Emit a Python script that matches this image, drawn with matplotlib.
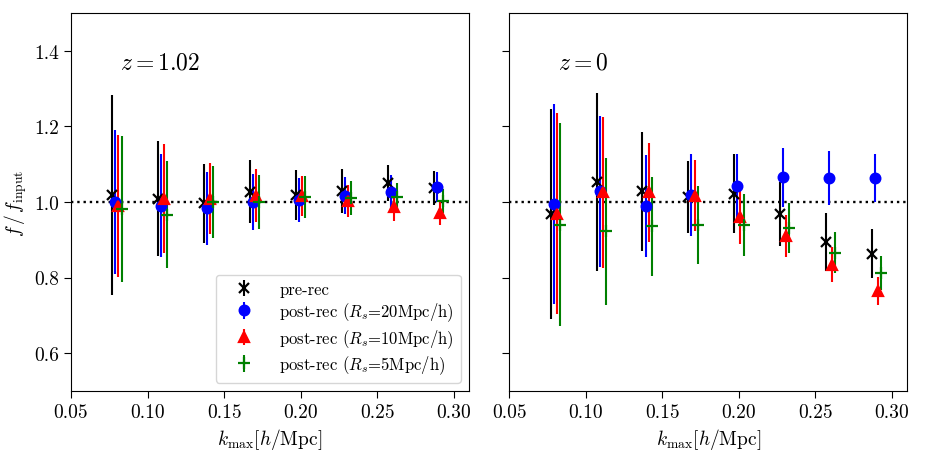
import numpy as np
import matplotlib
matplotlib.use('Agg')
import matplotlib.pyplot as plt

plt.rcParams['font.family'] = 'serif'
plt.rcParams['font.serif'] = ['cmr10', 'DejaVu Serif']
plt.rcParams['mathtext.fontset'] = 'cm'
plt.rcParams['axes.formatter.use_mathtext'] = True

kmax = np.array([0.08, 0.11, 0.14, 0.17, 0.20, 0.23, 0.26, 0.29])

# z = 1.02
pre_z1 = [1.018, 1.009, 0.996, 1.027, 1.019, 1.030, 1.050, 1.036]
pre_z1_err = [0.265, 0.152, 0.104, 0.083, 0.066, 0.058, 0.047, 0.045]
r20_z1 = [1.000, 0.990, 0.983, 1.000, 1.005, 1.017, 1.027, 1.040]
r20_z1_err = [0.190, 0.136, 0.096, 0.073, 0.059, 0.050, 0.045, 0.040]
r10_z1 = [0.989, 1.009, 1.008, 1.016, 1.016, 1.002, 0.987, 0.972]
r10_z1_err = [0.188, 0.143, 0.094, 0.070, 0.052, 0.042, 0.037, 0.032]
r5_z1 = [0.982, 0.966, 1.000, 1.000, 1.013, 1.010, 1.012, 1.003]
r5_z1_err = [0.193, 0.142, 0.096, 0.072, 0.055, 0.045, 0.038, 0.031]

# z = 0
pre_z0 = [0.968, 1.052, 1.028, 1.012, 1.022, 0.969, 0.894, 0.863]
pre_z0_err = [0.278, 0.236, 0.157, 0.095, 0.105, 0.085, 0.077, 0.065]
r20_z0 = [0.994, 1.028, 0.989, 1.019, 1.041, 1.065, 1.063, 1.064]
r20_z0_err = [0.264, 0.200, 0.136, 0.108, 0.086, 0.078, 0.071, 0.063]
r10_z0 = [0.969, 1.026, 1.025, 1.017, 0.959, 0.910, 0.834, 0.764]
r10_z0_err = [0.266, 0.200, 0.131, 0.095, 0.070, 0.055, 0.047, 0.038]
r5_z0 = [0.940, 0.922, 0.936, 0.939, 0.940, 0.931, 0.866, 0.813]
r5_z0_err = [0.268, 0.194, 0.131, 0.103, 0.082, 0.067, 0.054, 0.045]

labels = ['pre-rec',
          r'post-rec ($R_s$=20Mpc/h)',
          r'post-rec ($R_s$=10Mpc/h)',
          r'post-rec ($R_s$=5Mpc/h)']
offsets = [-0.003, -0.001, 0.001, 0.003]
styles = [('k', 'x', 6.5), ('b', 'o', 7), ('r', '^', 7), ('g', '+', 8)]

panels = [
    ([pre_z1, r20_z1, r10_z1, r5_z1], [pre_z1_err, r20_z1_err, r10_z1_err, r5_z1_err], r'$z=1.02$'),
    ([pre_z0, r20_z0, r10_z0, r5_z0], [pre_z0_err, r20_z0_err, r10_z0_err, r5_z0_err], r'$z=0$'),
]

fig = plt.figure(figsize=(9.27, 4.6), dpi=100)
ax1 = fig.add_axes([0.0766, 0.148, 0.4294, 0.8217])
ax2 = fig.add_axes([0.5494, 0.148, 0.4294, 0.8217])

for i, (ax, (vals, errs, ztxt)) in enumerate(zip([ax1, ax2], panels)):
    ax.axhline(1.0, color='k', ls=':', lw=1.7, zorder=1)
    for j in range(4):
        c, m, ms = styles[j]
        ax.errorbar(kmax + offsets[j], vals[j], yerr=errs[j], fmt=m, color=c,
                    ms=ms, mew=1.6, elinewidth=1.5, capsize=0, label=labels[j])
    ax.set_xlim(0.05, 0.31)
    ax.set_ylim(0.5, 1.5)
    ax.set_yticks([0.6, 0.8, 1.0, 1.2, 1.4])
    ax.set_xticks([0.05, 0.10, 0.15, 0.20, 0.25, 0.30])
    ax.set_xticklabels(['0.05', '0.10', '0.15', '0.20', '0.25', '0.30'])
    ax.tick_params(labelsize=14, length=5)
    ax.set_xlabel(r'$k_{\rm max}[h/{\rm Mpc}]$', fontsize=14)
    ax.text(0.082, 1.37, ztxt, fontsize=17, va='center', ha='left')

ax1.set_yticklabels(['0.6', '0.8', '1.0', '1.2', '1.4'])
ax1.set_ylabel(r'$f\,/\,f_{\rm input}$', fontsize=14)
ax2.set_yticklabels([])
ax1.legend(loc='lower right', fontsize=12, labelspacing=0.22, handlelength=2.6)

fig.savefig('out.png', dpi=100)
